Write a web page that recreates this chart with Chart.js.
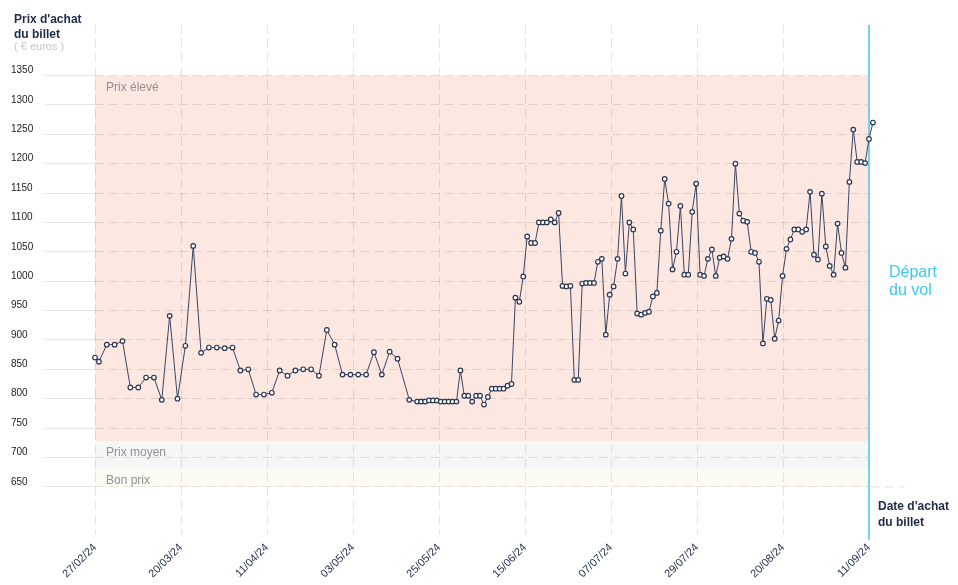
<!DOCTYPE html>
<html>
<head>
<meta charset="utf-8">
<script src="https://cdn.jsdelivr.net/npm/chart.js@4/dist/chart.umd.min.js"></script>
<style>
  body { margin: 0; background: #fff; }
</style>
</head>
<body>
<canvas id="myChart" width="958" height="585"></canvas>
<script>
// tick labels
let xLabels = ['27/02/24','20/03/24','11/04/24','03/05/24','25/05/24','15/06/24','07/07/24','29/07/24','20/08/24','11/09/24'];
let yTicks = [650,700,750,800,850,900,950,1000,1050,1100,1150,1200,1250,1300,1350];

// days since 27/02/24
let days = [0,1,3,5,7,9,11,13,15,17,19,21,23,25,27,29,31,33,35,37,39,41,43,45,47,49,51,53,55,57,59,61,63,65,67,69,71,73,75,77,80,
  82,83,84,85,86,87,88,89,90,91,
  92,93,94,95,96,97,98,99,100,101,
  102,103,104,105,106,107,108,109,110,111,
  112,113,114,115,116,117,118,119,120,121,
  122,123,124,125,126,127,128,129,130,131,
  132,133,134,135,136,137,138,139,140,141,
  142,143,144,145,146,147,148,149,150,151,
  152,153,154,155,156,157,158,159,160,161,
  162,163,164,165,166,167,168,169,170,171,
  172,173,174,175,176,177,178,179,180,181,
  182,183,184,185,186,187,188,189,190,191,
  192,193,194,195,196,197,198];

// ticket price in euros
let prices = [870,863,892,892,898,819,819,836,836,798,941,800,890,1060,878,887,887,886,887,848,850,807,807,810,848,839,848,850,850,839,917,892,841,841,841,841,879,841,880,868,798,
  795,795,795,797,797,797,795,795,795,795,
  795,848,805,805,795,805,805,790,803,817,
  817,817,817,822,825,972,965,1008,1076,1065,
  1065,1100,1100,1100,1105,1100,1116,992,991,992,
  832,832,996,997,997,997,1033,1038,909,977,
  991,1038,1145,1013,1100,1088,945,943,946,948,
  974,980,1086,1174,1132,1020,1050,1128,1011,1011,
  1118,1166,1011,1009,1038,1054,1009,1040,1042,1038,
  1072,1200,1115,1103,1101,1050,1048,1033,894,970,
  968,902,933,1009,1055,1071,1088,1088,1084,1088,
  1152,1045,1037,1149,1059,1026,1011,1098,1048,1023,
  1169,1258,1203,1203,1201,1242,1270];

// price zones
let bandNames = ['Bon prix','Prix moyen','Prix élevé'];
let bandLimits = [650, 680, 728, 1350];
let departDay = 197;

let bandColors = ['#fbfbf1','#f6f6f6','#fde7e1'];
let font = '"Liberation Sans", Arial, sans-serif';

let decor = {
  id: 'decor',
  beforeDraw(chart) {
    let ctx = chart.ctx;
    let x = chart.scales.x, y = chart.scales.y;
    let left = x.getPixelForValue(0), right = x.getPixelForValue(departDay);
    ctx.save();
    bandNames.forEach((name, i) => {
      let top = y.getPixelForValue(bandLimits[i + 1]);
      let bot = y.getPixelForValue(bandLimits[i]);
      ctx.fillStyle = bandColors[i];
      ctx.fillRect(left, top, right - left, bot - top);
      ctx.fillStyle = '#8d919c';
      ctx.font = '12px ' + font;
      ctx.textBaseline = 'alphabetic';
      ctx.fillText(name, left + 11, top + 15);
    });
    ctx.restore();
  },
  beforeDatasetsDraw(chart) {
    let ctx = chart.ctx;
    let px = chart.scales.x.getPixelForValue(departDay);
    ctx.save();
    ctx.strokeStyle = '#46c8f0';
    ctx.lineWidth = 1.5;
    ctx.beginPath();
    ctx.moveTo(px, chart.chartArea.top);
    ctx.lineTo(px, chart.chartArea.bottom + 5);
    ctx.stroke();
    ctx.restore();
  },
  afterDraw(chart) {
    let ctx = chart.ctx;
    let x = chart.scales.x, y = chart.scales.y;
    let right = x.getPixelForValue(departDay);
    let base = y.getPixelForValue(yTicks[0]);
    ctx.save();
    ctx.strokeStyle = 'rgba(0,0,0,0.1)';
    ctx.setLineDash([9, 5]);
    ctx.beginPath();
    ctx.moveTo(right + 2, base);
    ctx.lineTo(905, base);
    ctx.stroke();
    ctx.setLineDash([]);

    ctx.textBaseline = 'alphabetic';
    ctx.fillStyle = '#1f2b47';
    ctx.font = 'bold 12px ' + font;
    ctx.fillText("Prix d'achat", 14, 23);
    ctx.fillText('du billet', 14, 38);
    ctx.fillText("Date d'achat", right + 9, 510);
    ctx.fillText('du billet', right + 9, 526);
    ctx.fillStyle = '#c6c6c6';
    ctx.font = '11px ' + font;
    ctx.fillText('( € euros )', 14, 50);
    ctx.fillStyle = '#3ec8f0';
    ctx.font = '16px ' + font;
    ctx.fillText('Départ', right + 20, 277);
    ctx.fillText('du vol', right + 20, 295);
    ctx.restore();
  }
};

let ctx = document.getElementById('myChart').getContext('2d');

let myChart = new Chart(ctx, {
  type: 'line',
  data: {
    datasets: [{
      data: days.map((d, i) => ({x: d, y: prices[i]})),
      borderColor: '#3a4662',
      borderWidth: 1,
      pointRadius: 2.3,
      pointBorderWidth: 1.2,
      pointBorderColor: '#2b3752',
      pointBackgroundColor: '#fff',
      tension: 0,
      clip: false
    }]
  },
  options: {
    responsive: false,
    animation: false,
    layout: { padding: { left: 11, right: 89, top: 25, bottom: 0 } },
    plugins: { legend: { display: false }, tooltip: { enabled: false } },
    scales: {
      x: {
        type: 'linear',
        bounds: 'data',
        // range ends on the departure day, the last point is drawn past it
        afterDataLimits: s => { s.min = 0; s.max = departDay; },
        afterBuildTicks: s => {
          s.min = 0; s.max = departDay;
          s.ticks = xLabels.map((l, i) => ({value: i * departDay / (xLabels.length - 1)}));
        },
        afterFit: s => { s.height = 50; },
        grid: { color: 'rgba(0,0,0,0.1)', drawTicks: false },
        border: { display: false, dash: [9, 5] },
        ticks: {
          autoSkip: false,
          minRotation: 45,
          maxRotation: 45,
          padding: 6,
          color: '#1f2b47',
          font: { family: font, size: 11 },
          callback: (v, i) => xLabels[i]
        }
      },
      y: {
        min: 568,
        max: 1436,
        afterBuildTicks: s => { s.ticks = yTicks.map(v => ({value: v})); },
        afterFit: s => { s.width = 84; },
        grid: { color: 'rgba(0,0,0,0.1)', tickLength: 50, tickColor: 'rgba(0,0,0,0.1)' },
        border: { display: false, dash: [9, 5] },
        ticks: {
          crossAlign: 'far',
          labelOffset: -5,
          color: '#222',
          font: { family: font, size: 10 },
          callback: v => String(v)
        }
      }
    }
  },
  plugins: [decor]
});
</script>
</body>
</html>
